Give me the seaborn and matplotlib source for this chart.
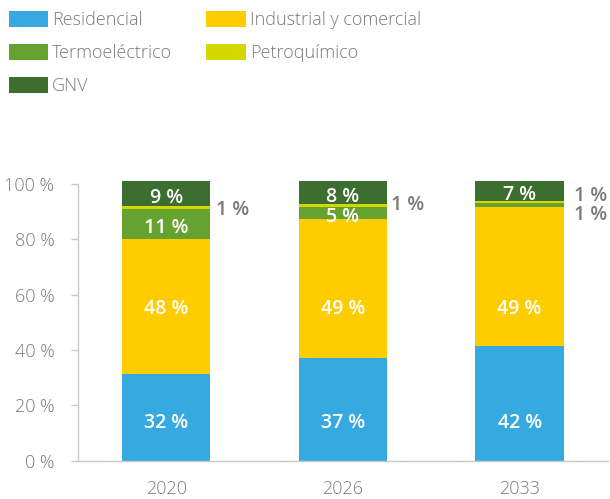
import matplotlib
matplotlib.use("Agg")
import matplotlib.pyplot as plt
import seaborn as sns
import numpy as np
import pandas as pd
from matplotlib.patches import Patch

years = ["2020", "2026", "2033"]
series_names = ["Residencial", "Industrial y comercial", "Termoeléctrico", "Petroquímico", "GNV"]
# bar heights (percent)
residencial = [31.3, 37.2, 41.5]
industrial = [48.9, 50.2, 50.4]
termo = [10.7, 4.3, 1.3]
petro = [1.2, 1.0, 0.7]
gnv = [8.9, 8.3, 7.1]
# printed labels
lab_residencial = ["32 %", "37 %", "42 %"]
lab_industrial = ["48 %", "49 %", "49 %"]
lab_termo = ["11 %", "5 %", None]
lab_gnv = ["9 %", "8 %", "7 %"]
lab_small = ["1 %", "1 %", "1 %", "1 %"]
colors = ["#36A9E1", "#FFCC00", "#66A22F", "#D4D800", "#3C6E30"]
yticks = [0, 20, 40, 60, 80, 100]

sns.set_style("white")
plt.rcParams['font.family'] = ['Open Sans', 'DejaVu Sans']

gray = "#7a7a7a"
fig = plt.figure(figsize=(6.10, 4.99), dpi=100)
ax = fig.add_axes([77.7/610, 38.5/499, 530.3/610, 290/499])
ax.set_ylim(0, 290 / 2.763)

values = [residencial, industrial, termo, petro, gnv]
cum = np.cumsum(np.array(values), axis=0)
for i in range(len(values) - 1, -1, -1):
    df = pd.DataFrame({"year": years, "v": cum[i]})
    sns.barplot(data=df, x="year", y="v", color=colors[i], width=0.5,
                saturation=1, ax=ax, order=years, linewidth=0)

lab_kw = dict(ha="center", va="center", color="white", fontsize=14, fontweight="semibold")
for j in range(len(years)):
    ax.text(j, 13.6, lab_residencial[j], **lab_kw)
    ax.text(j, 55.0, lab_industrial[j], **lab_kw)
    if lab_termo[j]:
        c = cum[2][j] - termo[j] / 2 - 1.5
        ax.text(j, c, lab_termo[j], **lab_kw)
    c = cum[4][j] - gnv[j] / 2 - 1.5
    ax.text(j, c, lab_gnv[j], **lab_kw)

out_kw = dict(ha="left", va="center", color=gray, fontsize=14, fontweight="semibold", clip_on=False)
ax.text(0.285, 90.7, lab_small[0], **out_kw)
ax.text(1.27, 92.5, lab_small[1], **out_kw)
ax.text(2.31, 95.7, lab_small[2], **out_kw)
ax.text(2.31, 88.9, lab_small[3], **out_kw)

ax.set_xlim(-0.5, 2.5)
ax.set_yticks(yticks)
ax.set_yticklabels([f"{t} %" for t in yticks], fontweight="light")
ax.set_xlabel("")
ax.set_ylabel("")
ax.set_xticks([0, 1, 2])
ax.set_xticklabels(years, fontweight="light")
ax.set_xticks([-0.5, 0.5, 1.5, 2.5], minor=True)
ax.tick_params(axis="x", which="major", length=0, pad=14, labelsize=13, labelcolor=gray)
ax.tick_params(axis="x", which="minor", length=5, width=1, color="#c8c8c8", direction="out")
ax.tick_params(axis="y", length=4.8, width=1, color="#c8c8c8", pad=12, labelsize=13, labelcolor=gray, left=True)

for s in ["top", "right"]:
    ax.spines[s].set_visible(False)
for s in ["left", "bottom"]:
    ax.spines[s].set_color("#c8c8c8")
    ax.spines[s].set_linewidth(1)
ax.spines["left"].set_bounds(0, 100)

handles = [Patch(facecolor=colors[i], edgecolor="none", label=series_names[i]) for i in range(5)]
order = [0, 2, 4, 1, 3]
leg = fig.legend(handles=[handles[k] for k in order], labels=[series_names[k] for k in order],
                 loc="upper left", bbox_to_anchor=(-0.0035, 1.0), ncol=2, frameon=False,
                 fontsize=13, labelcolor=gray, handlelength=2.2, handleheight=1.0,
                 handletextpad=0.2, columnspacing=1.9, labelspacing=0.82,
                 borderaxespad=0.3, borderpad=0.3, prop={"size": 13, "weight": "light"})

fig.savefig("out.png", dpi=100)
